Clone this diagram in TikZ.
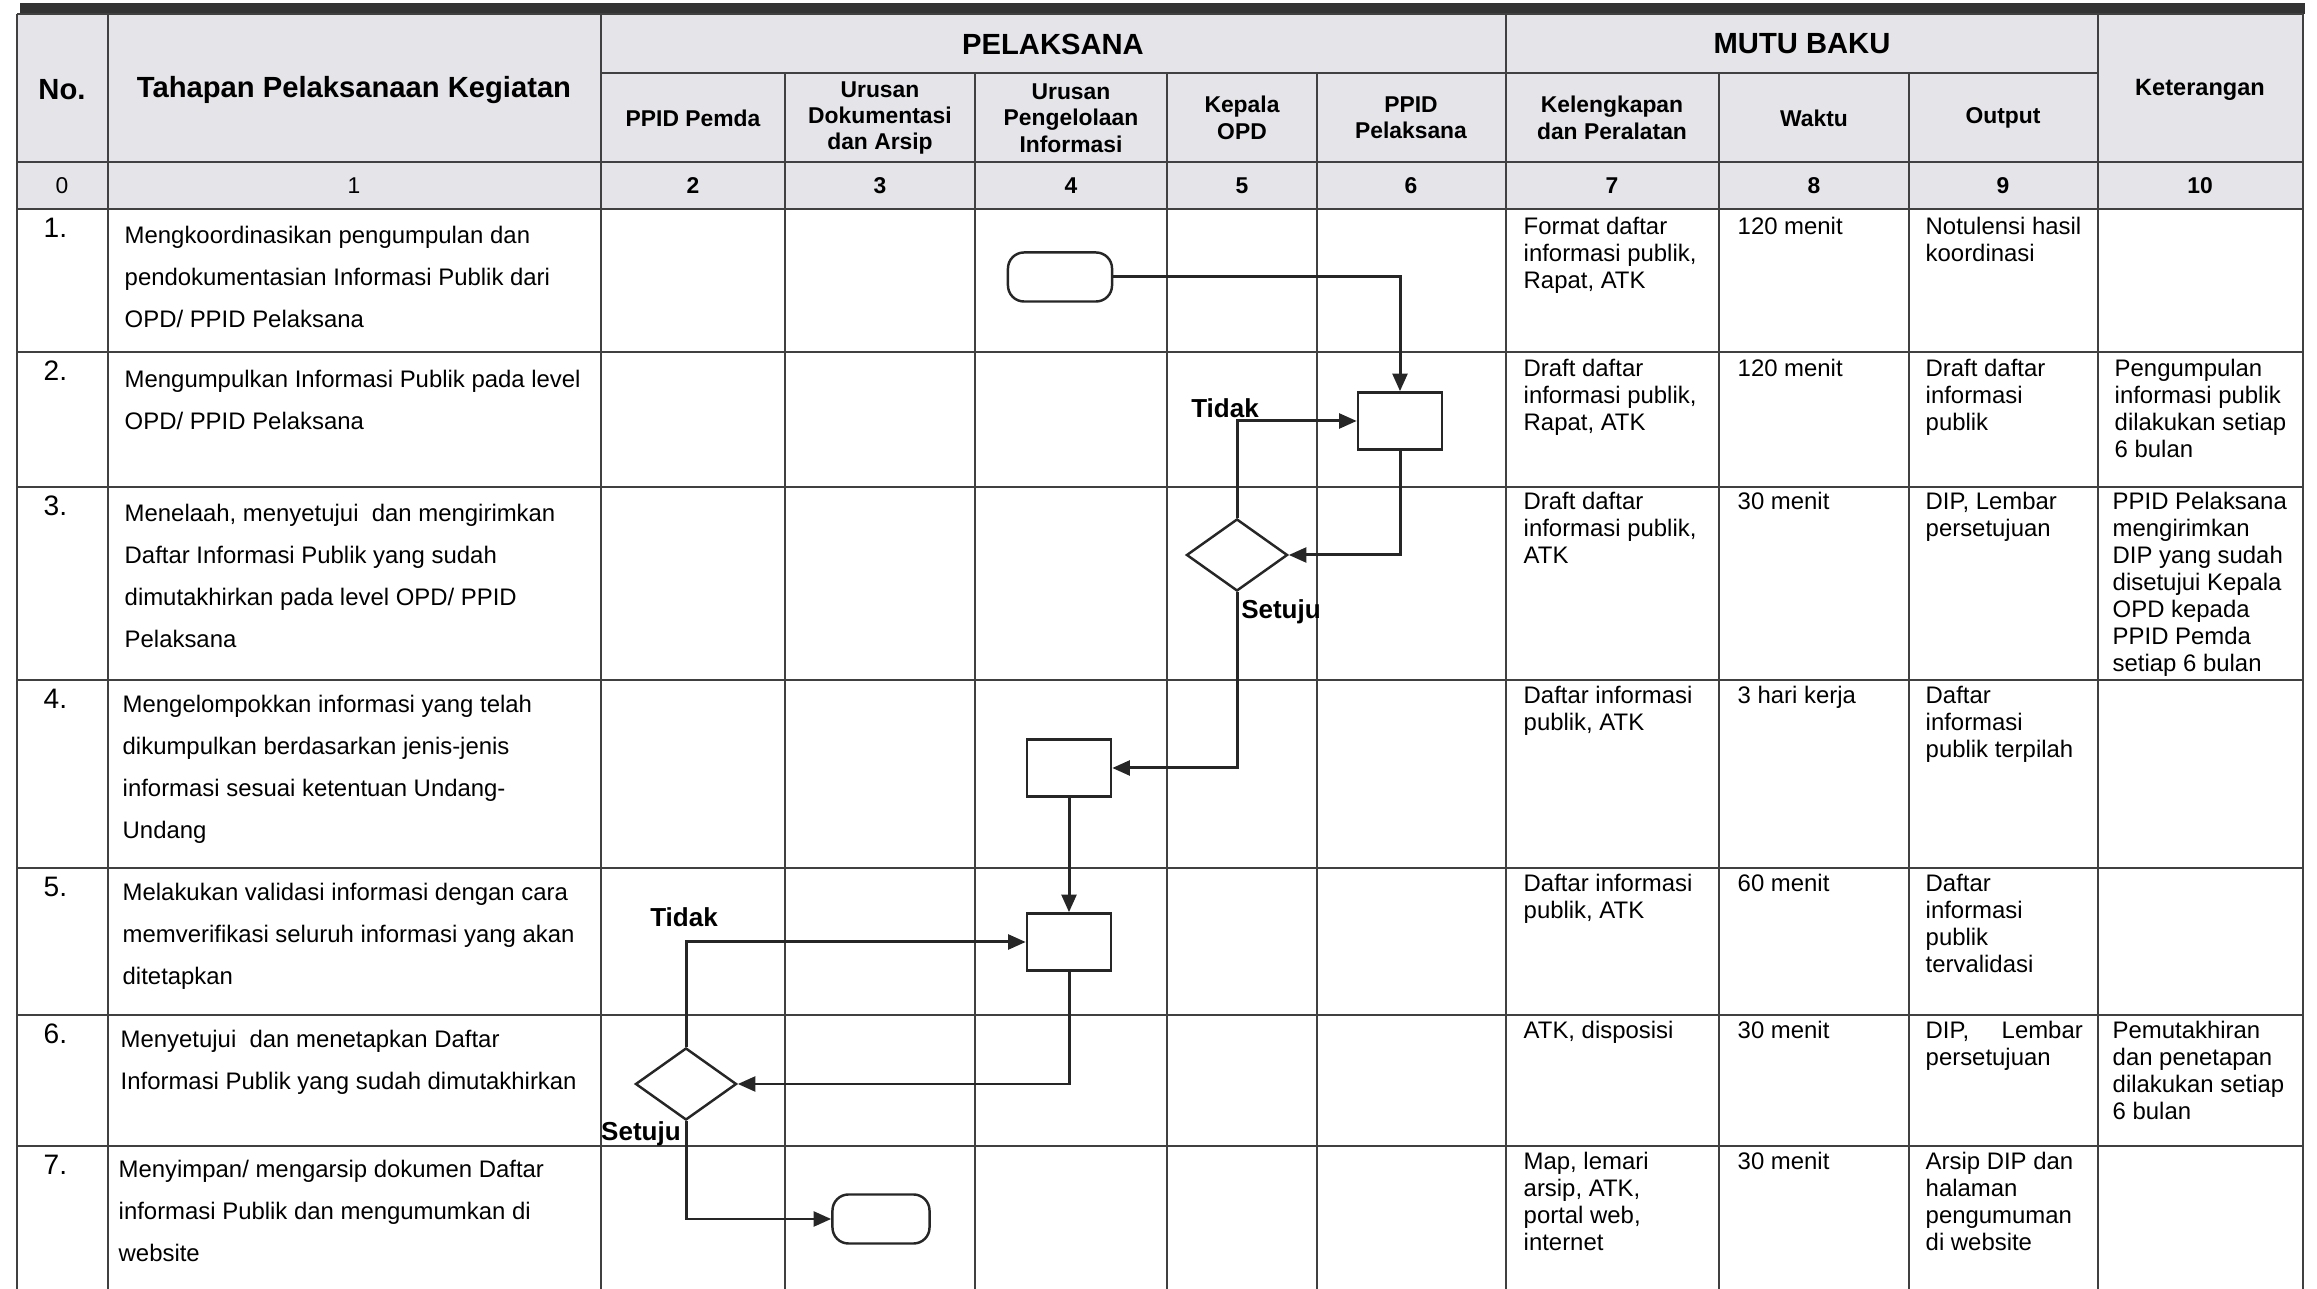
\documentclass[tikz,border=0pt]{standalone}
\usepackage{fontspec}
\setmainfont{Liberation Sans}
\usepackage{tikz}
\usetikzlibrary{shapes.geometric}
\usetikzlibrary{calc}
\usetikzlibrary{positioning}
\usetikzlibrary{arrows.meta}
\definecolor{abukepala}{RGB}{229,229,233}
\tikzset{garis/.style={draw=black!75,line width=0.5pt}}
\tikzset{proses/.style={rectangle,draw=black!85,line width=0.7pt,minimum width=0.84cm,minimum height=0.57cm,inner sep=0pt}}
\tikzset{putusan/.style={diamond,draw=black!85,line width=0.7pt,minimum width=1.01cm,minimum height=0.72cm,inner sep=0pt}}
\tikzset{terminal/.style={rectangle,rounded corners=0.16cm,draw=black!85,line width=0.7pt,minimum height=0.49cm,inner sep=0pt}}
\tikzset{alur/.style={draw=black!85,line width=0.85pt,-{Triangle[length=5pt,width=4.2pt]}}}
\tikzset{judul/.style={font=\fontsize{8.3}{9.5}\selectfont\bfseries,inner sep=0pt}}
\tikzset{subjudul/.style={font=\fontsize{6.5}{7.5}\selectfont\bfseries,align=center,inner sep=0pt}}
\tikzset{angka/.style={font=\fontsize{6.5}{7.5}\selectfont,inner sep=0pt}}
\tikzset{nomor/.style={font=\fontsize{8}{9}\selectfont,anchor=north west,inner sep=0pt}}
\tikzset{tahap/.style={font=\fontsize{6.8}{12}\selectfont,anchor=north west,align=left,inner sep=0pt}}
\tikzset{isi/.style={font=\fontsize{6.8}{7.7}\selectfont,anchor=north west,align=left,inner sep=0pt}}
\tikzset{cabang/.style={font=\fontsize{7.4}{8}\selectfont\bfseries,inner sep=0pt}}

\begin{document}
\begin{tikzpicture}[x=0.01cm,y=-0.01cm]
		\useasboundingbox (0,0) rectangle (2317,1289);
		% kepala tabel
		\fill[abukepala] (17,14) rectangle (2303,209);
		\fill[black!80] (20,3) rectangle (2305,14);
		\draw[garis] (17,14) -- (2303,14);
		\draw[garis] (601,73) -- (2098,73);
		\foreach \y in {162,209,352,487,680,868,1015,1146}
			\draw[garis] (17,\y) -- (2303,\y);
		\foreach \x in {17,108,601,1506,2098,2303}
			\draw[garis] (\x,14) -- (\x,1289);
		\foreach \x in {785,975,1167,1317,1719,1909}
			\draw[garis] (\x,73) -- (\x,1289);
		\node[judul] (hno) at (62,90) {No.};
		\node[judul] (htahap) at (354,90) {Tahapan Pelaksanaan Kegiatan};
		\node[judul] (hpel) at (1053,44) {PELAKSANA};
		\node[judul] (hmutu) at (1802,44) {MUTU BAKU};
		\node[subjudul,font=\fontsize{6.7}{7.5}\selectfont\bfseries] (hket) at (2200,90) {Keterangan};
		\node[subjudul] (hpemda) at (693,118) {PPID Pemda};
		\node[subjudul] (hdok) at (880,118) {Urusan\\Dokumentasi\\dan Arsip};
		\node[subjudul] (hinfo) at (1071,118) {Urusan\\Pengelolaan\\Informasi};
		\node[subjudul] (hkepala) at (1242,118) {Kepala\\OPD};
		\node[subjudul] (hppid) at (1411,118) {PPID\\Pelaksana};
		\node[subjudul] (halat) at (1612,118) {Kelengkapan\\dan Peralatan};
		\node[subjudul] (hwaktu) at (1814,118) {Waktu};
		\node[subjudul] (hout) at (2003,118) {Output};
		\node[angka] (k0) at (62,186) {0};
		\node[angka] (k1) at (354,186) {1};
		\foreach \k/\x in {2/693,3/880,4/1071,5/1242,6/1411,7/1612,8/1814,9/2003,10/2200}
			\node[angka,font=\fontsize{6.5}{7.5}\selectfont\bfseries] (k\k) at (\x,186) {\k};
		% isi baris
		\foreach \n/\y in {1/209,2/352,3/487,4/680,5/868,6/1015,7/1146}
			\node[nomor] (no\n) at (43,\y+8) {\n.};
		\node[tahap] (t1) at (124,225) {Mengkoordinasikan pengumpulan dan\\pendokumentasian Informasi Publik dari\\OPD/ PPID Pelaksana};
		\node[tahap] (t2) at (124,369) {Mengumpulkan Informasi Publik pada level\\OPD/ PPID Pelaksana};
		\node[tahap] (t3) at (124,503) {Menelaah, menyetujui\ \ dan mengirimkan\\Daftar Informasi Publik yang sudah\\dimutakhirkan pada level OPD/ PPID\\Pelaksana};
		\node[tahap] (t4) at (122,694) {Mengelompokkan informasi yang telah\\dikumpulkan berdasarkan jenis-jenis\\informasi sesuai ketentuan Undang-\\Undang};
		\node[tahap] (t5) at (122,882) {Melakukan validasi informasi dengan cara\\memverifikasi seluruh informasi yang akan\\ditetapkan};
		\node[tahap] (t6) at (120,1029) {Menyetujui\ \ dan menetapkan Daftar\\Informasi Publik yang sudah dimutakhirkan};
		\node[tahap] (t7) at (118,1159) {Menyimpan/ mengarsip dokumen Daftar\\informasi Publik dan mengumumkan di\\website};
		\node[isi] (a1) at (1523,216) {Format daftar\\informasi publik,\\Rapat, ATK};
		\node[isi] (w1) at (1737,216) {120 menit};
		\node[isi] (o1) at (1925,216) {Notulensi hasil\\koordinasi};
		\node[isi] (a2) at (1523,358) {Draft daftar\\informasi publik,\\Rapat, ATK};
		\node[isi] (w2) at (1737,358) {120 menit};
		\node[isi] (o2) at (1925,358) {Draft daftar\\informasi\\publik};
		\node[isi] (c2) at (2114,358) {Pengumpulan\\informasi publik\\dilakukan setiap\\6 bulan};
		\node[isi] (a3) at (1523,491) {Draft daftar\\informasi publik,\\ATK};
		\node[isi] (w3) at (1737,491) {30 menit};
		\node[isi] (o3) at (1925,491) {DIP, Lembar\\persetujuan};
		\node[isi] (c3) at (2112,491) {PPID Pelaksana\\mengirimkan\\DIP yang sudah\\disetujui Kepala\\OPD kepada\\PPID Pemda\\setiap 6 bulan};
		\node[isi] (a4) at (1523,685) {Daftar informasi\\publik, ATK};
		\node[isi] (w4) at (1737,685) {3 hari kerja};
		\node[isi] (o4) at (1925,685) {Daftar\\informasi\\publik terpilah};
		\node[isi] (a5) at (1523,873) {Daftar informasi\\publik, ATK};
		\node[isi] (w5) at (1737,873) {60 menit};
		\node[isi] (o5) at (1925,873) {Daftar\\informasi\\publik\\tervalidasi};
		\node[isi] (a6) at (1523,1020) {ATK, disposisi};
		\node[isi] (w6) at (1737,1020) {30 menit};
		\node[isi,text width=1.57cm] (o6) at (1925,1020) {DIP,\hfill Lembar\\persetujuan};
		\node[isi] (c6) at (2112,1020) {Pemutakhiran\\dan penetapan\\dilakukan setiap\\6 bulan};
		\node[isi] (a7) at (1523,1151) {Map, lemari\\arsip, ATK,\\portal web,\\internet};
		\node[isi] (w7) at (1737,1151) {30 menit};
		\node[isi] (o7) at (1925,1151) {Arsip DIP dan\\halaman\\pengumuman\\di website};
		% diagram alir
		\node[terminal,minimum width=1.04cm] (mulai) at (1060,277) {};
		\node[proses] (kumpul) at (1400,421) {};
		\node[putusan] (telaah) at (1237,555) {};
		\node[proses] (kelompok) at (1069,768) {};
		\node[proses] (validasi) at (1069,942) {};
		\node[putusan] (tetap) at (686,1084) {};
		\node[terminal,minimum width=0.97cm] (selesai) at (881,1219) {};
		\draw[alur] (mulai.east) -| (kumpul.north);
		\draw[alur] (kumpul.south) |- (telaah.east);
		\draw[alur] (telaah.north) |- (kumpul.west);
		\draw[alur] (telaah.south) |- (kelompok.east);
		\draw[alur] (kelompok.south) -- (validasi.north);
		\draw[alur] (validasi.south) |- (tetap.east);
		\draw[alur] (tetap.north) |- (validasi.west);
		\draw[alur] (tetap.south) |- (selesai.west);
		\node[cabang] (tidak1) at (1225,408) {Tidak};
		\node[cabang] (setuju1) at (1281,612) {Setuju};
		\node[cabang] (tidak2) at (684,917) {Tidak};
		\node[cabang] (setuju2) at (641,1134) {Setuju};
	\end{tikzpicture}
\end{document}
